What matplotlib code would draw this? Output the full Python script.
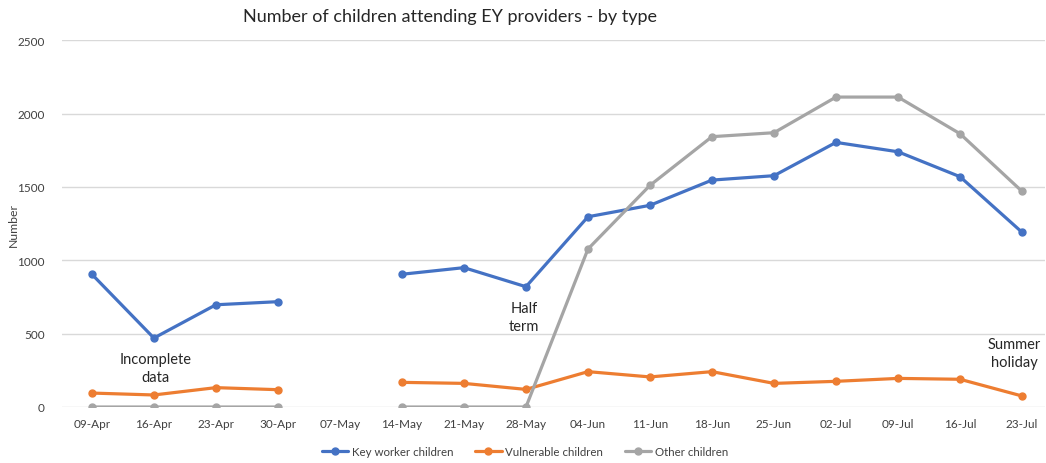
import numpy as np
import matplotlib
matplotlib.use("Agg")
import matplotlib.pyplot as plt

dates = ["09-Apr", "16-Apr", "23-Apr", "30-Apr", "07-May", "14-May", "21-May",
         "28-May", "04-Jun", "11-Jun", "18-Jun", "25-Jun", "02-Jul", "09-Jul",
         "16-Jul", "23-Jul"]
key_worker = [905, 470, 697, 718, np.nan, 905, 950, 820, 1297, 1375, 1547,
              1577, 1804, 1740, 1570, 1191]
vulnerable = [95, 82, 132, 118, np.nan, 168, 161, 120, 241, 205, 241, 161,
              175, 195, 189, 75]
other = [0, 0, 0, 0, np.nan, 0, 0, 0, 1077, 1511, 1843, 1870, 2113, 2113,
         1863, 1470]
series_names = ["Key worker children", "Vulnerable children", "Other children"]
colors = ["#4472C4", "#ED7D31", "#A5A5A5"]
yticks = [0, 500, 1000, 1500, 2000, 2500]

plt.rcParams['font.family'] = ['Lato', 'DejaVu Sans']

fig = plt.figure(figsize=(10.46, 4.64), dpi=100)
W, H = 1046, 464
ax = fig.add_axes([61.5 / W, (H - 408) / H, (1045 - 61.5) / W, (408 - 41.3) / H])

x = np.arange(len(dates))
for vals, name, c in zip([key_worker, vulnerable, other], series_names, colors):
    ax.plot(x, vals, color=c, lw=2.3, marker='o', ms=5, label=name,
            solid_capstyle='round')

ax.set_ylim(0, 2500)
ax.set_yticks(yticks)
ax.set_xticks(x)
ax.set_xticklabels(dates)
ax.set_xlim(-0.49, 15.37)
ax.grid(axis='y', color='#D9D9D9', lw=1)
ax.set_axisbelow(True)
for s in ax.spines.values():
    s.set_visible(False)
ax.tick_params(length=0, labelsize=8.5, colors='#404040')
ax.tick_params(axis='x', pad=8)
ax.tick_params(axis='y', pad=12)
ax.set_ylabel("Number", fontsize=8.8, color='#404040')
ax.yaxis.set_label_coords((19 - 61.5) / (1045 - 61.5), 0.5)

fig.text(450 / W, 1 - 17 / H, "Number of children attending EY providers - by type",
         ha='center', va='center', fontsize=13, color='#262626')

ann_kw = dict(ha='center', va='center', fontsize=10.5, color='#262626', linespacing=1.3)
ax.text(1.02, 266, "Incomplete\ndata", **ann_kw)
ax.text(6.97, 613, "Half\nterm", **ann_kw)
ax.text(14.87, 368, "Summer\nholiday", **ann_kw)

fig.legend(loc='center', bbox_to_anchor=(525 / W, 1 - 453 / H), ncol=3,
           frameon=False, fontsize=8.3, handlelength=2.3, columnspacing=1.9,
           handletextpad=0.3, labelcolor='#404040')

fig.savefig("out.png", dpi=100)
